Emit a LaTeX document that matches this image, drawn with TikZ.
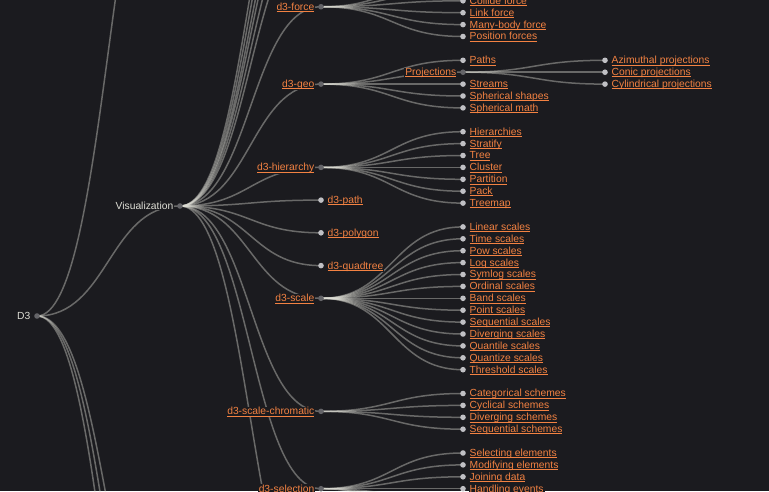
\documentclass[tikz,border=0pt]{standalone}
\usepackage{fontspec}
\setmainfont{Liberation Sans}
\usetikzlibrary{calc}
\definecolor{bgc}{HTML}{1B1B1F}
\definecolor{txt}{HTML}{DFDFD6}
\definecolor{orng}{RGB}{243,130,66}
\definecolor{idotc}{HTML}{646468}
\definecolor{ldotc}{HTML}{C0C0C4}
\pgfdeclarelayer{back}
\pgfdeclarelayer{links}
\pgfsetlayers{back,links,main}
\newcommand\ulined[1]{\setbox0\hbox{#1}\rlap{\rule[-1.7pt]{\wd0}{0.85pt}}\box0}
\newcommand\dlink[2]{\begin{pgfonlayer}{links}\draw[lnk] let \p1=(#1), \p2=(#2) in (\p1) .. controls ({0.5*\x1+0.5*\x2},\y1) and ({0.5*\x1+0.5*\x2},\y2) .. (\p2);\end{pgfonlayer}}
% name, parent, x, y, text
\newcommand\leafnode[5]{\coordinate (#1) at (#3,#4); \dlink{#2}{#1}
  \node[ldot] (#1-d) at (#1) {};
  \node[llbl] (#1-t) at ([xshift=5.5pt,yshift=-3.4pt]#1) {\ulined{#5}};}
\newcommand\innode[5]{\coordinate (#1) at (#3,#4); \dlink{#2}{#1}
  \node[idot] (#1-d) at (#1) {};
  \node[ilbl] (#1-t) at ([xshift=-5.5pt,yshift=-3.4pt]#1) {\ulined{#5}};}
\newcommand\offnode[4]{\coordinate (#1) at (#3,#4); \dlink{#2}{#1}}
\begin{document}
\begin{tikzpicture}[x=1pt,y=-1pt,
  lnk/.style={draw=txt, draw opacity=0.4, line width=1.5pt},
  ldot/.style={circle, fill=ldotc, minimum size=5.6pt, inner sep=0pt},
  idot/.style={circle, fill=idotc, minimum size=5.6pt, inner sep=0pt},
  llbl/.style={anchor=base west, text=orng, fill=bgc, inner xsep=1pt, inner ysep=0.6pt, font=\fontsize{10.3}{12}\selectfont},
  ilbl/.style={llbl, anchor=base east},
  rlbl/.style={ilbl, text=txt}]
\begin{pgfonlayer}{back}
\fill[bgc] (0,0) rectangle (769,491);
\end{pgfonlayer}
\useasboundingbox (0,0) rectangle (769,491);
% root
\coordinate (d3) at (37,316);
\node[idot] (d3-d) at (d3) {};
\node[rlbl] (d3-t) at ([xshift=-5.5pt,yshift=-3.4pt]d3) {D3};
% depth 1
\offnode{c1a}{d3}{180}{-216}
\coordinate (vis) at (180,206); \dlink{d3}{vis}
\node[idot] (vis-d) at (vis) {};
\node[rlbl] (vis-t) at ([xshift=-5.5pt,yshift=-3.4pt]vis) {Visualization};
\offnode{c1b}{d3}{180}{701}
\offnode{c1c}{d3}{180}{775}
\offnode{c1d}{d3}{180}{869}
% depth 2
\offnode{v1}{vis}{321}{-220}
\offnode{v2}{vis}{321}{-188}
\offnode{v3}{vis}{321}{-157}
\offnode{v4}{vis}{321}{-135}
\offnode{v5}{vis}{321}{-105}
\offnode{v6}{vis}{321}{-75}
\innode{force}{vis}{321}{6.75}{d3-force}
\innode{geo}{vis}{321}{84.1}{d3-geo}
\innode{hier}{vis}{321}{167.4}{d3-hierarchy}
\leafnode{path}{vis}{321}{200.1}{d3-path}
\leafnode{poly}{vis}{321}{232.8}{d3-polygon}
\leafnode{quad}{vis}{321}{265.6}{d3-quadtree}
\innode{scale}{vis}{321}{298.3}{d3-scale}
\innode{chrom}{vis}{321}{411.35}{d3-scale-chromatic}
\innode{sel}{vis}{321}{488.7}{d3-selection}
\offnode{v7}{vis}{321}{632}
% d3-force
\offnode{f1}{force}{463}{-23}
\offnode{f2}{force}{463}{-11.1}
\leafnode{collide}{force}{463}{0.8}{Collide force}
\leafnode{linkf}{force}{463}{12.7}{Link force}
\leafnode{many}{force}{463}{24.6}{Many-body force}
\leafnode{posf}{force}{463}{36.5}{Position forces}
% d3-geo
\leafnode{paths}{geo}{463}{60.3}{Paths}
\innode{proj}{geo}{463}{72.2}{Projections}
\leafnode{streams}{geo}{463}{84.1}{Streams}
\leafnode{sshapes}{geo}{463}{96.0}{Spherical shapes}
\leafnode{smath}{geo}{463}{107.9}{Spherical math}
\leafnode{azim}{proj}{605}{60.3}{Azimuthal projections}
\leafnode{conic}{proj}{605}{72.2}{Conic projections}
\leafnode{cyl}{proj}{605}{84.1}{Cylindrical projections}
% d3-hierarchy
\leafnode{h1}{hier}{463}{131.7}{Hierarchies}
\leafnode{h2}{hier}{463}{143.6}{Stratify}
\leafnode{h3}{hier}{463}{155.5}{Tree}
\leafnode{h4}{hier}{463}{167.4}{Cluster}
\leafnode{h5}{hier}{463}{179.3}{Partition}
\leafnode{h6}{hier}{463}{191.2}{Pack}
\leafnode{h7}{hier}{463}{203.1}{Treemap}
% d3-scale
\leafnode{s1}{scale}{463}{226.9}{Linear scales}
\leafnode{s2}{scale}{463}{238.8}{Time scales}
\leafnode{s3}{scale}{463}{250.7}{Pow scales}
\leafnode{s4}{scale}{463}{262.6}{Log scales}
\leafnode{s5}{scale}{463}{274.5}{Symlog scales}
\leafnode{s6}{scale}{463}{286.4}{Ordinal scales}
\leafnode{s7}{scale}{463}{298.3}{Band scales}
\leafnode{s8}{scale}{463}{310.2}{Point scales}
\leafnode{s9}{scale}{463}{322.1}{Sequential scales}
\leafnode{s10}{scale}{463}{334.0}{Diverging scales}
\leafnode{s11}{scale}{463}{345.9}{Quantile scales}
\leafnode{s12}{scale}{463}{357.8}{Quantize scales}
\leafnode{s13}{scale}{463}{369.7}{Threshold scales}
% d3-scale-chromatic
\leafnode{c1}{chrom}{463}{393.5}{Categorical schemes}
\leafnode{c2}{chrom}{463}{405.4}{Cyclical schemes}
\leafnode{c3}{chrom}{463}{417.3}{Diverging schemes}
\leafnode{c4}{chrom}{463}{429.2}{Sequential schemes}
% d3-selection
\leafnode{e1}{sel}{463}{453.0}{Selecting elements}
\leafnode{e2}{sel}{463}{464.9}{Modifying elements}
\leafnode{e3}{sel}{463}{476.8}{Joining data}
\leafnode{e4}{sel}{463}{488.7}{Handling events}
\offnode{e5}{sel}{463}{500.6}
\offnode{e6}{sel}{463}{512.5}
\offnode{e7}{sel}{463}{524.4}
\end{tikzpicture}
\end{document}
